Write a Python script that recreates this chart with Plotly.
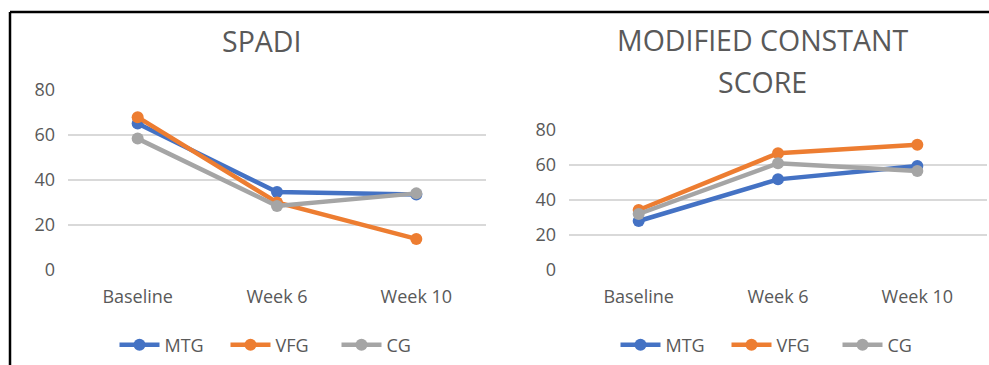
import plotly.graph_objects as go

W, H = 989, 365

categories = ["Baseline", "Week 6", "Week 10"]
series_names = ["MTG", "VFG", "CG"]
spadi_mtg = [65, 34.6, 33.5]
spadi_vfg = [67.8, 30, 13.8]
spadi_cg = [58.3, 28.4, 34]
mcs_mtg = [28, 51.8, 59.4]
mcs_vfg = [34.3, 66.7, 71.6]
mcs_cg = [32, 61, 56.6]
y_ticks = [0, 20, 40, 60, 80]
title_left = "SPADI"
title_right_lines = ["MODIFIED CONSTANT", "SCORE"]

colors = ["#4472C4", "#ED7D31", "#A5A5A5"]
FONT = "Open Sans"
TXT = "#595959"


def px_x(p):
    return p / W


def px_y(p):
    return 1 - p / H


fig = go.Figure()

panels = [
    dict(data=[spadi_mtg, spadi_vfg, spadi_cg], xa="x", ya="y", legend="legend"),
    dict(data=[mcs_mtg, mcs_vfg, mcs_cg], xa="x2", ya="y2", legend="legend2"),
]
for p in panels:
    for name, vals, c in zip(series_names, p["data"], colors):
        fig.add_trace(go.Scatter(
            x=categories, y=vals, name=name, mode="lines+markers",
            line=dict(color=c, width=4.5), marker=dict(color=c, size=12),
            xaxis=p["xa"], yaxis=p["ya"], legend=p["legend"], cliponaxis=False,
        ))

axis_common_x = dict(
    type="category", range=[-0.5, 2.5], showgrid=False, zeroline=False,
    showline=False, ticks="", tickfont=dict(family=FONT, size=18, color=TXT),
    ticklabelstandoff=14, fixedrange=True,
)
axis_common_y = dict(
    range=[0, 80], tickvals=y_ticks, showgrid=True, gridcolor="#D9D9D9",
    gridwidth=1.5, zeroline=False, showline=False, ticks="",
    tickfont=dict(family=FONT, size=18, color=TXT), ticklabelstandoff=12,
    fixedrange=True,
)

legend_common = dict(orientation="h", xanchor="center", yanchor="middle",
                     font=dict(family=FONT, size=18, color=TXT),
                     bgcolor="rgba(0,0,0,0)", itemwidth=40,
                     entrywidth=56, entrywidthmode="pixels")

fig.update_layout(
    width=W, height=H, margin=dict(l=0, r=0, t=0, b=0, autoexpand=False),
    paper_bgcolor="white", plot_bgcolor="white",
    xaxis=dict(domain=[px_x(68), px_x(486)], anchor="y", **axis_common_x),
    yaxis=dict(domain=[px_y(270), px_y(89.7)], anchor="x", **axis_common_y),
    xaxis2=dict(domain=[px_x(569), px_x(987)], anchor="y2", **axis_common_x),
    yaxis2=dict(domain=[px_y(270), px_y(130)], anchor="x2", **axis_common_y),
    legend=dict(x=px_x(281), y=px_y(345), **legend_common),
    legend2=dict(x=px_x(782), y=px_y(345), **legend_common),
    showlegend=True,
)

fig.add_annotation(text=title_left, x=px_x(261), y=px_y(41), xref="paper", yref="paper",
                   showarrow=False, xanchor="center", yanchor="middle",
                   font=dict(family=FONT, size=28.5, color=TXT))
for line, ypx in zip(title_right_lines, [40, 82]):
    fig.add_annotation(text=line, x=px_x(762), y=px_y(ypx), xref="paper", yref="paper",
                       showarrow=False, xanchor="center", yanchor="middle",
                       font=dict(family=FONT, size=28.5, color=TXT))

# outer frame (top and left edges visible)
fig.add_shape(type="line", xref="paper", yref="paper", x0=px_x(10), x1=1,
              y0=px_y(12), y1=px_y(12), line=dict(color="black", width=2.5))
fig.add_shape(type="line", xref="paper", yref="paper", x0=px_x(10), x1=px_x(10),
              y0=px_y(12), y1=0, line=dict(color="black", width=2.5))

fig.write_html("out.html", config={"displayModeBar": False},
               post_script="document.body.style.margin='0';document.body.style.overflow='hidden';")
